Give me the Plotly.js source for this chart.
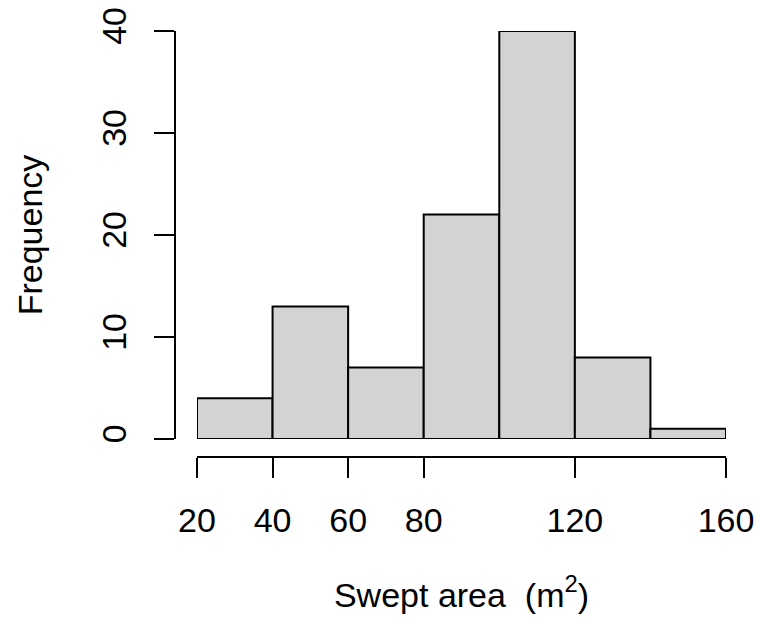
<!DOCTYPE html>
<html>
<head>
<meta charset="utf-8">
<script src="https://cdn.plot.ly/plotly-3.0.1.min.js"></script>
<style>html,body{margin:0;padding:0;background:#fff;}#chart{width:759px;height:622px;}</style>
</head>
<body>
<div id="chart"></div>
<script>
// Histogram data (bin edges and counts)
const binEdges = [20, 40, 60, 80, 100, 120, 140, 160];
const frequencies = [4, 13, 7, 22, 40, 8, 1];
const xTicks = [20, 40, 60, 80, 120, 160];
const yTicks = [0, 10, 20, 30, 40];

const centers = frequencies.map((_, i) => (binEdges[i] + binEdges[i + 1]) / 2);
const widths = frequencies.map((_, i) => binEdges[i + 1] - binEdges[i]);

const W = 759, H = 622;
const font = {family: 'Liberation Sans, Arial, sans-serif', size: 34, color: '#000'};

const trace = {
  type: 'bar',
  x: centers,
  y: frequencies,
  width: widths,
  marker: {color: '#D3D3D3', line: {color: '#000', width: 2}},
  hoverinfo: 'x+y'
};

const layout = {
  width: W, height: H,
  margin: {l: 0, r: 0, t: 0, b: 0},
  paper_bgcolor: '#fff', plot_bgcolor: '#fff',
  font: font,
  showlegend: false,
  bargap: 0,
  xaxis: {
    domain: [197 / W, 726 / W],
    range: [binEdges[0], binEdges[binEdges.length - 1]],
    anchor: 'free', position: (H - 457) / H,
    showgrid: false, zeroline: false,
    showline: true, linecolor: '#000', linewidth: 2,
    ticks: 'outside', ticklen: 20, tickwidth: 2, tickcolor: '#000',
    tickmode: 'array', tickvals: xTicks, ticktext: xTicks.map(String),
    ticklabelstandoff: 13,
    tickfont: font,
    title: {text: 'Swept area\u00A0 (m<sup>2</sup>)', font: font, standoff: 44}
  },
  yaxis: {
    domain: [(H - 439) / H, (H - 31) / H],
    range: [0, 40],
    anchor: 'free', position: 175 / W,
    showgrid: false, zeroline: false,
    showline: true, linecolor: '#000', linewidth: 2,
    ticks: 'outside', ticklen: 20, tickwidth: 2, tickcolor: '#000',
    tickmode: 'array', tickvals: yTicks, ticktext: yTicks.map(String),
    tickangle: -90,
    ticklabelstandoff: 14,
    tickfont: font,
    title: {text: 'Frequency', font: font, standoff: 42}
  }
};

Plotly.newPlot('chart', [trace], layout, {displayModeBar: false, staticPlot: true});
</script>
</body>
</html>
